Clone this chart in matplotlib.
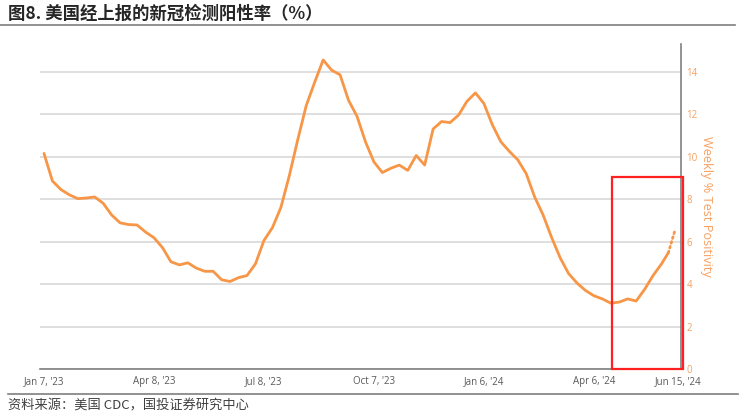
import matplotlib.pyplot as plt
import matplotlib.patches as patches
import numpy as np

plt.rcParams['font.family'] = ['Noto Sans CJK SC', 'DejaVu Sans']

# weekly % test positivity, week 0 = Jan 7, 2023
weeks = list(range(74)) + [73.8]
positivity = [10.15, 8.85, 8.45, 8.2, 8.02, 8.05, 8.1, 7.8, 7.25, 6.88,
              6.8, 6.78, 6.45, 6.18, 5.72, 5.05, 4.9, 5.0, 4.75, 4.6,
              4.6, 4.2, 4.12, 4.3, 4.4, 4.95, 6.05, 6.65, 7.6, 9.1,
              10.8, 12.4, 13.5, 14.55, 14.07, 13.85, 12.65, 11.9, 10.7, 9.75,
              9.25, 9.45, 9.6, 9.35, 10.05, 9.6, 11.3, 11.65, 11.6, 11.95,
              12.6, 13.0, 12.5, 11.5, 10.7, 10.25, 9.85, 9.2, 8.1, 7.25,
              6.2, 5.25, 4.5, 4.05, 3.7, 3.45, 3.3, 3.1, 3.15, 3.3,
              3.2, 3.75, 4.4, 4.95, 5.47]
# preliminary (dotted) tail
prelim_weeks = [73.8, 74.6]
prelim_vals = [5.47, 6.55]

tick_weeks = [0, 13, 26, 39, 52, 65, 75]
tick_labels = ["Jan 7, '23", "Apr 8, '23", "Jul 8, '23", "Oct 7, '23",
               "Jan 6, '24", "Apr 6, '24", "Jun 15, '24"]

orange = '#F79646'

fig = plt.figure(figsize=(7.4, 4.17), dpi=100)
ax = fig.add_axes([40/740, 48/417, 641/740, 325/417])

ax.plot(weeks, positivity, color=orange, lw=2.0, solid_joinstyle='round',
        solid_capstyle='round', zorder=3)
ax.plot(prelim_weeks, prelim_vals, color=orange, lw=2.0, ls=(0, (0.6, 1.2)),
        dash_capstyle='round', zorder=3)

ax.set_xlim(-0.47, 75.3)
ax.set_ylim(0, 15.3)

ax.yaxis.tick_right()
ax.yaxis.set_label_position('right')
ax.set_yticks(np.arange(0, 15, 2))
ax.tick_params(axis='y', length=0, pad=4, labelsize=7, labelcolor='#F8A060')
ax.set_xticks(tick_weeks)
ax.set_xticklabels(tick_labels)
ax.tick_params(axis='x', length=0, pad=5, labelsize=7, labelcolor='#595959')
for lab in ax.get_xticklabels() + ax.get_yticklabels():
    lab.set_family('Open Sans')

ax.grid(axis='y', color='#D9D9D9', lw=1.2)
ax.set_axisbelow(True)
for s in ['top', 'left']:
    ax.spines[s].set_visible(False)
ax.spines['right'].set_color('#808080')
ax.spines['bottom'].set_color('#808080')
ax.spines['right'].set_linewidth(1.2)
ax.spines['bottom'].set_linewidth(1.2)

ax.set_ylabel('Weekly % Test Positivity', rotation=270, labelpad=11,
              color='#F8A060', fontsize=9.2, family='Open Sans')

# red highlight box
box = patches.Rectangle((67.1, 0), 8.4, 9.04, fill=False, edgecolor='#FF2020',
                        lw=1.6, clip_on=False, zorder=4)
ax.add_patch(box)

# title, rules and source
fig.text(8/740, 1 - 14/417, '图8. 美国经上报的新冠检测阳性率（%）', fontsize=12.5,
         fontweight='bold', va='center', ha='left', color='#262626')
fig.add_artist(plt.Line2D([0, 735/740], [1 - 25/417] * 2, color='#7F7F7F', lw=1.2))
fig.add_artist(plt.Line2D([8/740, 738/740], [1 - 394/417] * 2, color='#7F7F7F', lw=1.2))
fig.text(8/740, 1 - 406/417, '资料来源：美国 CDC，国投证券研究中心', fontsize=9.5,
         va='center', ha='left', color='#404040', style='italic')

fig.savefig('out.png', dpi=100)
